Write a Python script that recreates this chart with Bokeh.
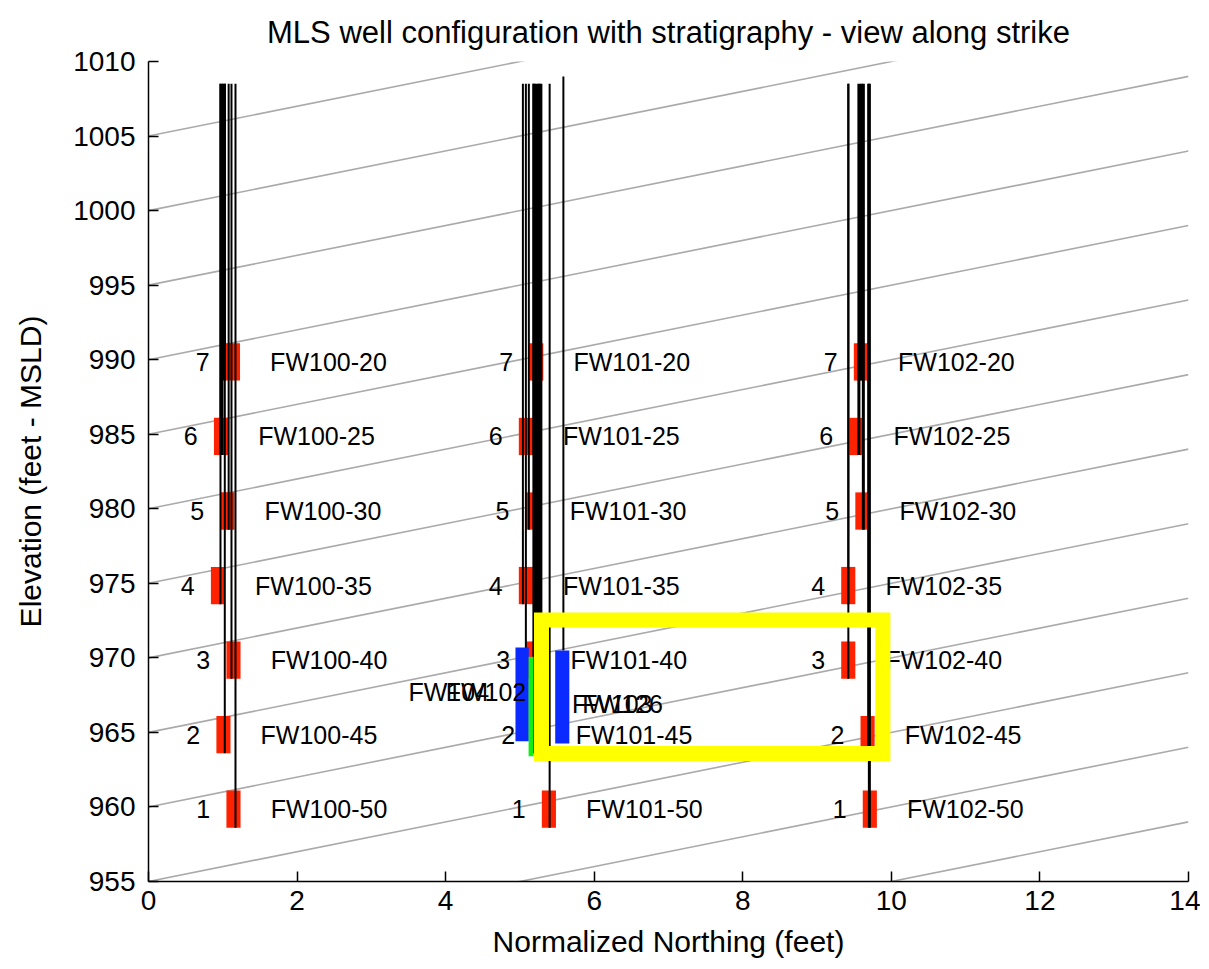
from bokeh.plotting import figure
from bokeh.models import Range1d, FixedTicker
from bokeh.core.properties import value
from bokeh.embed import file_html
from bokeh.resources import INLINE

FONT = "Liberation Sans"
FS = "25px"        # in-plot labels
FS_TICK = "28px"
FS_AXIS = "30px"
FS_TITLE = "31px"

# ---------------- data ----------------
x_ticks = [0, 2, 4, 6, 8, 10, 12, 14]
y_ticks = [955, 960, 965, 970, 975, 980, 985, 990, 995, 1000, 1005, 1010]

# stratigraphic surfaces: elevation at northing 0, and dip (ft per ft)
strat_intercepts = [945, 950, 955, 960, 965, 970, 975, 980, 985, 990, 995, 1000, 1005]
strat_dip = 1.0

ports = ["1", "2", "3", "4", "5", "6", "7"]
screen_bot = [958.6, 963.6, 968.6, 973.6, 978.6, 983.6, 988.6]
screen_top = [961.1, 966.1, 971.1, 976.1, 981.1, 986.1, 991.1]
well_top = 1008.5
screen_width = 0.19

fw100_names = ["FW100-50", "FW100-45", "FW100-40", "FW100-35", "FW100-30", "FW100-25", "FW100-20"]
fw100_screen_x = [1.144, 1.009, 1.144, 0.935, 1.063, 0.976, 1.137]
fw100_well_x = [1.171, 1.027, 1.117, 0.969, 1.079, 0.983, 1.016]
fw100_lw = [2, 2, 2, 2, 2, 4, 4]

fw101_names = ["FW101-50", "FW101-45", "FW101-40", "FW101-35", "FW101-30", "FW101-25", "FW101-20"]
fw101_screen_x = [5.39, 5.25, 5.18, 5.08, 5.17, 5.08, 5.22]
fw101_well_x = [5.40, 5.235, 5.08, 5.04, 5.12, 5.19, 5.26]
fw101_lw = [2, 10, 2, 2, 2, 3, 3]

fw102_names = ["FW102-50", "FW102-45", "FW102-40", "FW102-35", "FW102-30", "FW102-25", "FW102-20"]
fw102_screen_x = [9.71, 9.68, 9.42, 9.42, 9.61, 9.53, 9.59]
fw102_well_x = [9.704, 9.695, 9.421, 9.421, 9.623, 9.563, 9.596]
fw102_lw = [3, 3, 2, 2, 3, 3, 3]

# other (projected) wells
blue_x = [5.03, 5.57]
blue_w = [0.18, 0.19]
blue_bot = [964.4, 964.25]
blue_top = [970.7, 970.5]
green_x = [5.15]
green_w = [0.067]
green_bot = [963.4]
green_top = [970.07]
casing_x = [5.585]
casing_top = [1009.0]
casing_bot = [970.5]

other_names = ["FW104", "FW102", "FW103", "FW126"]
other_name_x = [3.5, 4.0, 5.7, 5.84]
other_name_y = [967.7, 967.7, 966.9, 966.9]

# highlight box
box_left, box_right, box_bot, box_top = 5.29, 9.886, 963.58, 972.54

# ---------------- figure ----------------
p = figure(width=1200, height=960, x_range=Range1d(0, 14), y_range=Range1d(955, 1010),
           output_backend="svg", toolbar_location=None,
           min_border_left=148, min_border_right=12, min_border_top=60, min_border_bottom=78,
           title="MLS well configuration with stratigraphy - view along strike")
p.outline_line_color = None
p.xgrid.visible = False
p.ygrid.visible = False
p.background_fill_color = "white"
p.border_fill_color = "white"

p.title.align = "center"
p.title.text_font = FONT
p.title.text_font_size = FS_TITLE
p.title.text_font_style = "normal"
p.title.text_color = "black"
p.title.standoff = 24

for ax in (p.xaxis[0], p.yaxis[0]):
    ax.major_tick_in = 10
    ax.major_tick_out = 0
    ax.minor_tick_line_color = None
    ax.axis_line_width = 1.5
    ax.major_tick_line_width = 1.5
    ax.axis_line_color = "black"
    ax.major_label_text_font = FONT
    ax.major_label_text_font_size = FS_TICK
    ax.major_label_text_color = "black"
    ax.axis_label_text_font = FONT
    ax.axis_label_text_font_size = FS_AXIS
    ax.axis_label_text_font_style = "normal"
    ax.axis_label_text_color = "black"
p.xaxis.ticker = FixedTicker(ticks=x_ticks)
p.yaxis.ticker = FixedTicker(ticks=y_ticks)
p.xaxis.axis_label = "Normalized Northing (feet)"
p.yaxis.axis_label = "Elevation (feet - MSLD)"
p.xaxis.major_label_standoff = 9
p.yaxis.major_label_standoff = 13
p.xaxis.axis_label_standoff = 12
p.yaxis.axis_label_standoff = 23

# stratigraphy lines
xs = [[0, 14] for c in strat_intercepts]
ys = [[c, c + 14 * strat_dip] for c in strat_intercepts]
p.multi_line(xs, ys, line_color="#aaaaaa", line_width=1.6)

clusters = [
    (fw100_names, fw100_screen_x, fw100_well_x, fw100_lw),
    (fw101_names, fw101_screen_x, fw101_well_x, fw101_lw),
    (fw102_names, fw102_screen_x, fw102_well_x, fw102_lw),
]

for names, sx, wx, lw in clusters:
    left = [x - screen_width / 2 for x in sx]
    right = [x + screen_width / 2 for x in sx]
    p.quad(left=left, right=right, bottom=screen_bot, top=screen_top,
           fill_color="#ff2200", line_color=None)

for names, sx, wx, lw in clusters:
    p.segment(x0=wx, y0=[well_top] * len(wx), x1=wx, y1=screen_bot,
              line_color="black", line_width=lw)
p.segment(x0=casing_x, y0=casing_top, x1=casing_x, y1=casing_bot, line_color="black", line_width=2)

for names, sx, wx, lw in clusters:
    mid = [(b + t) / 2 for b, t in zip(screen_bot, screen_top)]
    p.text(x=[x - 0.5 for x in sx], y=mid, text=ports, text_align="left", text_baseline="middle",
           text_font=value(FONT), text_font_size=value(FS), text_color="black")
    p.text(x=[x + 0.5 for x in sx], y=mid, text=names, text_align="left", text_baseline="middle",
           text_font=value(FONT), text_font_size=value(FS), text_color="black")

p.quad(left=[x - w / 2 for x, w in zip(blue_x, blue_w)], right=[x + w / 2 for x, w in zip(blue_x, blue_w)],
       bottom=blue_bot, top=blue_top, fill_color="#0a2aff", line_color=None)
p.quad(left=[x - w / 2 for x, w in zip(green_x, green_w)], right=[x + w / 2 for x, w in zip(green_x, green_w)],
       bottom=green_bot, top=green_top, fill_color="#11ee11", line_color=None)
p.text(x=other_name_x, y=other_name_y, text=other_names, text_align="left", text_baseline="middle",
       text_font=value(FONT), text_font_size=value(FS), text_color="black")

p.quad(left=[box_left], right=[box_right], bottom=[box_bot], top=[box_top],
       fill_color=None, line_color="#ffff00", line_width=15, line_join="miter")

open("out.html", "w").write(file_html(p, INLINE))
